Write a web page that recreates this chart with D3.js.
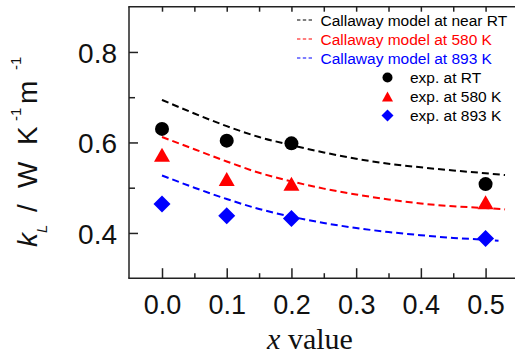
<!DOCTYPE html>
<html>
<head>
<meta charset="utf-8">
<script src="https://cdn.jsdelivr.net/npm/d3@7"></script>
<style>
  html, body { margin: 0; padding: 0; background: #fff; }
  svg { display: block; }
</style>
</head>
<body>
<svg id="chart" width="515" height="356"></svg>
<script>
// ---- data ----
const xExp = [0.0, 0.1, 0.2, 0.5];
const expRT = [0.630, 0.604, 0.598, 0.508];
const exp580 = [0.573, 0.519, 0.509, 0.468];
const exp893 = [0.464, 0.438, 0.432, 0.388];

const xModel = [0.0, 0.05, 0.10, 0.15, 0.20, 0.25, 0.30, 0.35, 0.40, 0.45, 0.50, 0.53];
const modelRT = [0.694, 0.664, 0.636, 0.612, 0.594, 0.578, 0.564, 0.553, 0.545, 0.538, 0.532, 0.528];
const model580 = [0.612, 0.585, 0.558, 0.533, 0.514, 0.498, 0.485, 0.474, 0.465, 0.459, 0.455, 0.452];
const xModel893 = [0.0, 0.05, 0.10, 0.15, 0.20, 0.25, 0.30, 0.35, 0.40, 0.45, 0.50, 0.52];
const model893 = [0.527, 0.500, 0.475, 0.453, 0.436, 0.422, 0.411, 0.402, 0.395, 0.389, 0.385, 0.383];

const xTicks = [0.0, 0.1, 0.2, 0.3, 0.4, 0.5];
const xTickLabels = ["0.0", "0.1", "0.2", "0.3", "0.4", "0.5"];
const yTicks = [0.4, 0.6, 0.8];
const yTickLabels = ["0.4", "0.6", "0.8"];
const yMinorTicks = [0.5, 0.7];
const xMinorTicks = [0.05, 0.15, 0.25, 0.35, 0.45];

const legendLines = ["Callaway model at near RT", "Callaway model at 580 K", "Callaway model at 893 K"];
const legendMarkers = ["exp. at RT", "exp. at 580 K", "exp. at 893 K"];
const colors = ["#000000", "#ff0000", "#0000ff"];

const SANS = "'Liberation Sans', Arial, sans-serif";
const SERIF = "'Liberation Serif', 'Times New Roman', serif";

// ---- scales ----
const svg = d3.select("#chart");
const x = d3.scaleLinear().domain([-0.051, 0.547]).range([129, 516]);
const y = d3.scaleLinear().domain([0.3, 0.9]).range([278.2, 6.7]);

const axisColor = "#222";
const axisW = 1.5;

// frame lines (left, bottom, top)
svg.append("line").attr("x1", x(-0.051)).attr("x2", x(-0.051)).attr("y1", y(0.9)).attr("y2", y(0.3))
  .attr("stroke", axisColor).attr("stroke-width", axisW);
svg.append("line").attr("x1", x(-0.051) - 0.75).attr("x2", 515).attr("y1", y(0.3)).attr("y2", y(0.3))
  .attr("stroke", axisColor).attr("stroke-width", axisW);
svg.append("line").attr("x1", x(-0.051) - 0.75).attr("x2", 515).attr("y1", y(0.9)).attr("y2", y(0.9))
  .attr("stroke", axisColor).attr("stroke-width", axisW);

// bottom axis ticks (inward, up)
const bottomAxis = d3.axisBottom(x).tickValues(xTicks).tickSizeInner(-10).tickSizeOuter(0)
  .tickFormat((d, i) => xTickLabels[i]).tickPadding(0);
const gB = svg.append("g").attr("transform", `translate(0,${y(0.3)})`).call(bottomAxis);
gB.select(".domain").remove();
gB.selectAll(".tick line").attr("stroke", axisColor).attr("stroke-width", axisW);
gB.selectAll(".tick text").attr("y", 36).attr("dy", 0)
  .style("font-size", "27px").style("font-family", SANS).attr("fill", "#111");

const bottomMinor = d3.axisBottom(x).tickValues(xMinorTicks).tickSizeInner(-5).tickSizeOuter(0).tickFormat("");
const gBm = svg.append("g").attr("transform", `translate(0,${y(0.3)})`).call(bottomMinor);
gBm.select(".domain").remove();
gBm.selectAll(".tick line").attr("stroke", axisColor).attr("stroke-width", axisW);

// top axis ticks (inward, down)
const topAxis = d3.axisTop(x).tickValues(xTicks.concat(xMinorTicks)).tickSizeInner(-5).tickSizeOuter(0).tickFormat("");
const gT = svg.append("g").attr("transform", `translate(0,${y(0.9)})`).call(topAxis);
gT.select(".domain").remove();
gT.selectAll(".tick line").attr("stroke", axisColor).attr("stroke-width", axisW);

// left axis ticks (inward, right)
const leftAxis = d3.axisLeft(y).tickValues(yTicks).tickSizeInner(-9).tickSizeOuter(0)
  .tickFormat((d, i) => yTickLabels[i]).tickPadding(0);
const gL = svg.append("g").attr("transform", `translate(${x(-0.051)},0)`).call(leftAxis);
gL.select(".domain").remove();
gL.selectAll(".tick line").attr("stroke", axisColor).attr("stroke-width", axisW);
gL.selectAll(".tick text").attr("x", -12).attr("dy", "0.36em")
  .style("font-size", "28px").style("font-family", SANS).attr("fill", "#111");

const leftMinor = d3.axisLeft(y).tickValues(yMinorTicks).tickSizeInner(-6).tickSizeOuter(0).tickFormat("");
const gLm = svg.append("g").attr("transform", `translate(${x(-0.051)},0)`).call(leftMinor);
gLm.select(".domain").remove();
gLm.selectAll(".tick line").attr("stroke", axisColor).attr("stroke-width", axisW);

// ---- model curves ----
const line = d3.line().x(d => x(d[0])).y(d => y(d[1])).curve(d3.curveMonotoneX);
const models = [
  [xModel, modelRT],
  [xModel, model580],
  [xModel893, model893]
];
models.forEach((m, i) => {
  svg.append("path")
    .datum(m[0].map((v, j) => [v, m[1][j]]))
    .attr("d", line)
    .attr("fill", "none")
    .attr("stroke", colors[i])
    .attr("stroke-width", 2)
    .attr("stroke-dasharray", "7,4");
});

// ---- experimental markers ----
function triPath(cx, cy, w, h) {
  return `M${cx},${cy - h / 2}L${cx + w / 2},${cy + h / 2}L${cx - w / 2},${cy + h / 2}Z`;
}
function diaPath(cx, cy, r) {
  return `M${cx},${cy - r}L${cx + r},${cy}L${cx},${cy + r}L${cx - r},${cy}Z`;
}

svg.append("g").selectAll("circle").data(xExp).join("circle")
  .attr("cx", d => x(d)).attr("cy", (d, i) => y(expRT[i])).attr("r", 7).attr("fill", colors[0]);
svg.append("g").selectAll("path").data(xExp).join("path")
  .attr("d", (d, i) => triPath(x(d), y(exp580[i]), 16, 14)).attr("fill", colors[1]);
svg.append("g").selectAll("path").data(xExp).join("path")
  .attr("d", (d, i) => diaPath(x(d), y(exp893[i]), 8.5)).attr("fill", colors[2]);

// ---- legend ----
const rowY = [20, 39, 58, 77.5, 96.5, 115.5];
const lg = svg.append("g");
legendLines.forEach((t, i) => {
  lg.append("line").attr("x1", 297).attr("x2", 312).attr("y1", rowY[i]).attr("y2", rowY[i])
    .attr("stroke", colors[i]).attr("stroke-width", 1.2).attr("stroke-dasharray", "3.4,2.4");
  lg.append("text").attr("x", 320.5).attr("y", rowY[i]).attr("dy", "0.36em")
    .style("font-family", SANS).style("font-size", "15.5px").attr("fill", colors[i]).text(t);
});
legendMarkers.forEach((t, i) => {
  const cy = rowY[i + 3];
  if (i === 0) lg.append("circle").attr("cx", 387.5).attr("cy", cy).attr("r", 5).attr("fill", colors[0]);
  if (i === 1) lg.append("path").attr("d", triPath(387.5, cy, 11, 10)).attr("fill", colors[1]);
  if (i === 2) lg.append("path").attr("d", diaPath(387.5, cy, 6)).attr("fill", colors[2]);
  lg.append("text").attr("x", 410).attr("y", cy).attr("dy", "0.36em")
    .style("font-family", SANS).style("font-size", "15.5px").attr("fill", "#000").text(t);
});

// ---- axis titles ----
const xt = svg.append("text").attr("x", 310).attr("y", 349).attr("text-anchor", "middle")
  .style("font-family", SERIF).style("font-size", "30px").attr("fill", "#111");
xt.append("tspan").style("font-style", "italic").text("x");
xt.append("tspan").text(" value");

const yt = svg.append("text").attr("transform", "translate(37,0) rotate(-90)")
  .style("font-family", SANS).style("font-size", "28px").attr("fill", "#111");
yt.append("tspan").attr("x", -247).style("font-style", "italic").text("k");
yt.append("tspan").attr("x", -233).attr("dy", 10).style("font-size", "15px").style("font-style", "italic").text("L");
yt.append("tspan").attr("x", -212).attr("dy", -10).text("/");
yt.append("tspan").attr("x", -188).text("W");
yt.append("tspan").attr("x", -145).text("K");
yt.append("tspan").attr("x", -121).attr("dy", -16).style("font-size", "15px").text("-1");
yt.append("tspan").attr("x", -104).attr("dy", 16).text("m");
yt.append("tspan").attr("x", -70).attr("dy", -16).style("font-size", "15px").text("-1");
</script>
</body>
</html>
